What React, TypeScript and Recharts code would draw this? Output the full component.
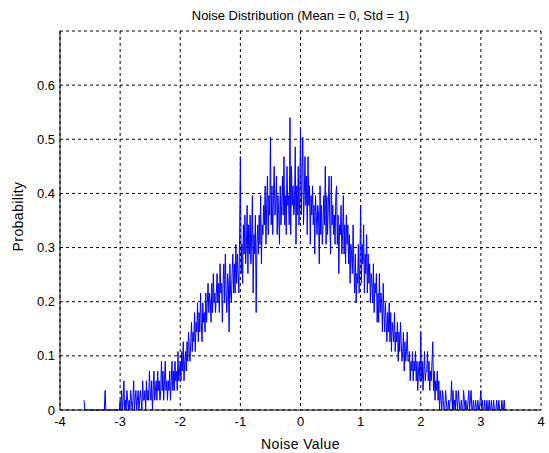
import { LineChart, Line, XAxis, YAxis, CartesianGrid, Label } from "recharts";

// histogram of the noise samples: bin centres start at -3.6, one count per bin
const BIN_START = -3.6;
const BIN_WIDTH = 0.0125;
const PDF_PER_COUNT = 0.018;

const COUNTS = [
  1, 0, 0, 0, 0, 0, 0, 0, // -3.6
  0, 0, 0, 0, 0, 0, 0, 0,
  0, 0, 0, 0, 0, 0, 0, 0,
  0, 0, 0, 0, 2, 0, 0, 0, // -3.3
  0, 0, 0, 0, 0, 0, 0, 0,
  0, 0, 0, 0, 0, 0, 0, 0,
  1, 0, 2, 0, 1, 3, 0, 1, // -3.0
  0, 2, 1, 0, 1, 0, 2, 1,
  0, 1, 3, 0, 1, 2, 0, 1,
  2, 0, 1, 2, 1, 0, 3, 1,
  1, 2, 0, 3, 1, 2, 1, 4,
  2, 1, 3, 0, 2, 4, 1, 2, // -2.5
  3, 1, 4, 2, 3, 1, 2, 5,
  2, 4, 1, 3, 5, 2, 3, 1,
  3, 2, 4, 1, 3, 5, 2, 4,
  2, 5, 3, 4, 2, 6, 3, 4,
  5, 3, 6, 4, 7, 3, 5, 6, // -2.0
  4, 7, 5, 8, 6, 5, 7, 9,
  6, 8, 7, 10, 6, 9, 8, 11,
  7, 10, 8, 12, 9, 7, 11, 9,
  10, 8, 12, 9, 11, 13, 10, 12,
  11, 9, 13, 10, 14, 11, 12, 10, // -1.5
  12, 14, 11, 13, 10, 15, 12, 13,
  9, 13, 15, 11, 16, 12, 10, 14,
  13, 8, 15, 12, 11, 14, 16, 12,
  15, 12, 17, 13, 16, 14, 12, 18,
  26, 14, 17, 13, 19, 16, 20, 15, // -1.0
  17, 21, 14, 19, 16, 20, 15, 18,
  22, 12, 18, 16, 20, 10, 17, 19,
  16, 20, 17, 22, 15, 19, 18, 21,
  19, 23, 17, 21, 24, 18, 22, 20,
  28, 19, 23, 18, 22, 25, 20, 21, // -0.5
  24, 18, 22, 20, 17, 23, 19, 21,
  24, 20, 26, 19, 22, 18, 25, 21,
  22, 19, 30, 18, 25, 21, 23, 20,
  21, 27, 17, 23, 20, 25, 19, 22,
  29, 20, 24, 28, 19, 22, 26, 21, // 0.0
  24, 18, 26, 21, 23, 17, 22, 20,
  23, 19, 21, 16, 22, 20, 18, 21,
  20, 15, 23, 18, 21, 17, 19, 22,
  19, 25, 17, 22, 18, 21, 24, 19,
  16, 24, 19, 21, 18, 20, 17, 22, // 0.5
  23, 17, 20, 14, 19, 18, 21, 16,
  18, 22, 16, 19, 15, 20, 17, 19,
  15, 18, 13, 17, 16, 14, 19, 15,
  12, 16, 11, 14, 13, 17, 12, 15,
  21, 13, 17, 15, 19, 12, 16, 14, // 1.0
  18, 12, 16, 13, 15, 11, 14, 13,
  11, 15, 10, 13, 12, 14, 9, 12,
  9, 14, 10, 12, 11, 8, 13, 10,
  8, 11, 9, 7, 10, 8, 11, 7,
  10, 6, 9, 8, 7, 10, 6, 8, // 1.5
  7, 9, 5, 8, 6, 9, 7, 5,
  6, 8, 4, 7, 5, 6, 8, 5,
  5, 6, 3, 5, 4, 6, 3, 5,
  4, 6, 3, 5, 2, 4, 5, 3,
  8, 3, 5, 2, 4, 6, 3, 4, // 2.0
  4, 6, 3, 5, 2, 4, 3, 5,
  7, 2, 4, 1, 3, 2, 4, 1,
  3, 0, 2, 1, 0, 2, 1, 0,
  0, 2, 1, 0, 0, 1, 0, 1,
  1, 3, 0, 2, 0, 1, 0, 2, // 2.5
  1, 0, 2, 1, 0, 0, 1, 0,
  0, 2, 1, 0, 1, 0, 0, 1,
  2, 0, 1, 2, 0, 0, 1, 0,
  0, 1, 0, 0, 1, 0, 0, 1,
  2, 0, 1, 0, 0, 1, 0, 0, // 3.0
  1, 0, 0, 1, 0, 0, 1, 0,
  0, 1, 0, 0, 0, 1, 0, 0,
  1, 0, 0, 0, 1, 0, 0, 1,
  0,
];

const X_TICKS = [-4, -3, -2, -1, 0, 1, 2, 3, 4];
const Y_TICKS = [0, 0.1, 0.2, 0.3, 0.4, 0.5, 0.6];

const data = COUNTS.map((c, i) => ({
  x: Number((BIN_START + i * BIN_WIDTH).toFixed(4)),
  p: c * PDF_PER_COUNT,
}));

const FONT = "'Liberation Sans', Arial, Helvetica, sans-serif";
const tickStyle = { fontSize: 13, fill: "#000", fontFamily: FONT };
const labelStyle = { fontSize: 14, fill: "#000", fontFamily: FONT, letterSpacing: 0.4 };

export default function App() {
  return (
    <div style={{ position: "absolute", left: 0, top: 0, width: 549, height: 453, background: "#fff", fontFamily: FONT }}>
      <div style={{ position: "absolute", left: 60, top: 8, width: 481, textAlign: "center", fontSize: 13, color: "#000" }}>
        Noise Distribution (Mean = 0, Std = 1)
      </div>
      <LineChart width={549} height={453} data={data} margin={{ top: 31, right: 8, bottom: 0, left: 0 }}>
        <CartesianGrid stroke="#000" strokeDasharray="3 3" strokeWidth={1} />
        <XAxis
          dataKey="x"
          type="number"
          domain={[-4, 4]}
          ticks={X_TICKS}
          height={43}
          tick={tickStyle}
          tickSize={0}
          tickMargin={7}
          axisLine={{ stroke: "#000" }}
        >
          <Label value="Noise Value" position="insideBottom" offset={4} style={{ ...labelStyle, textAnchor: "middle" }} />
        </XAxis>
        <XAxis xAxisId="top" orientation="top" type="number" domain={[-4, 4]} height={0} tick={false} tickLine={false} axisLine={{ stroke: "#000" }} />
        <YAxis
          type="number"
          domain={[0, 0.7]}
          ticks={Y_TICKS}
          width={60}
          tick={tickStyle}
          tickSize={0}
          tickMargin={5}
          axisLine={{ stroke: "#000" }}
        >
          <Label value="Probability" angle={-90} position="insideLeft" offset={18} dy={-4} style={{ ...labelStyle, textAnchor: "middle" }} />
        </YAxis>
        <YAxis yAxisId="right" orientation="right" type="number" domain={[0, 0.7]} width={0} tick={false} tickLine={false} axisLine={{ stroke: "#000" }} />
        <Line
          type="linear"
          dataKey="p"
          stroke="#0000ff"
          strokeWidth={1}
          dot={false}
          activeDot={false}
          isAnimationActive={false}
        />
      </LineChart>
    </div>
  );
}
